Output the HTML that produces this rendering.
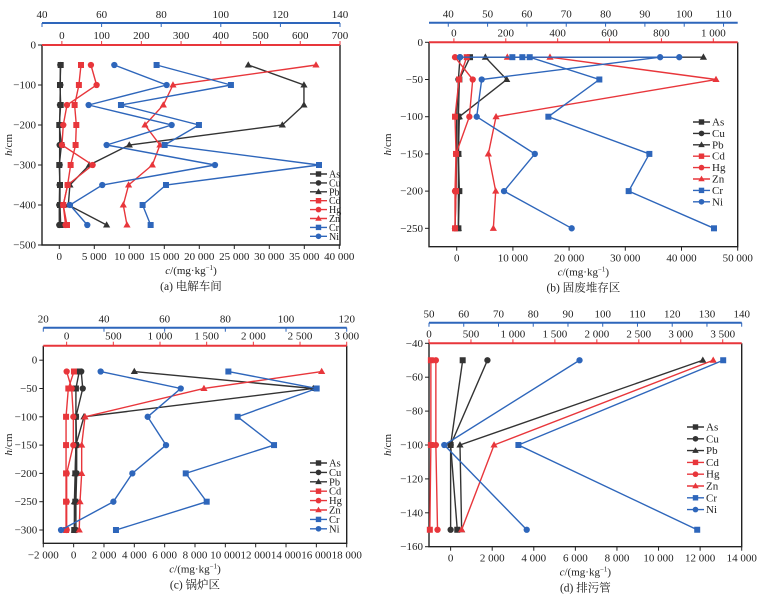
<!DOCTYPE html>
<html><head><meta charset="utf-8">
<style>
html,body{margin:0;padding:0;background:#fff;}
svg{display:block;font-family:"Liberation Serif","Noto Serif CJK SC",serif;}
</style></head>
<body>
<svg id="chart" width="765" height="600" viewBox="0 0 765 600" xmlns="http://www.w3.org/2000/svg"></svg>
<script>
// ---------- data ----------
const seriesNames = ['As','Cu','Pb','Cd','Hg','Zn','Cr','Ni'];
// (a) 电解车间
const aDepth = [-50,-100,-150,-200,-250,-300,-350,-400,-450];
const aAs = [200,100,200,0,300,0,100,100,200];
const aCu = [150,150,100,50,50,50,50,0,0];
const aPb = [27000,34950,34950,31860,10000,4290,1520,1290,6760];
const aCd = [3100,2800,2190,2430,2330,1620,1190,570,1100];
const aHg = [4520,5330,1100,570,380,4760,1190,570,900];
const aZn = [36670,16240,14860,12240,14380,13290,9900,9140,9670];
const aCr = [13900,24520,8810,19950,15050,37100,15240,11900,13050];
const aNi = [7860,15330,4190,16050,6760,22240,6140,1520,4000];
// (b) 固废堆存区
const bDepth = [-20,-50,-100,-150,-200,-250];
const bAs = [2370,470,300,300,470,300];
const bCu = [590,300,0,0,-120,-300];
const bPbDepth = [-20,-20,-50,-100,-150,-200,-250];
const bPb = [43900,5100,8900,470,300,300,300];
const bCd = [1780,415,-300,-120,-120,-300];
const bHg = [-300,2850,2250,-120,-300,-300];
const bZnDepth = [-20,-20,-50,-100,-150,-200,-250];
const bZn = [9010,16600,46140,7000,5630,6940,6520];
const bCrDepth = [-20,-20,-20,-50,-100,-150,-200,-250];
const bCr = [9900,11680,12990,25380,16310,34280,30600,45780];
const bNiDepth = [-20,-20,-20,-50,-100,-150,-200,-250];
const bNi = [590,39600,36200,4450,3560,13900,8420,20460];
// (c) 锅炉区
const cDepth = [-20,-50,-100,-150,-200,-250,-300];
const cAs = [370,150,150,150,110,110,40];
const cCu = [500,600,150,200,200,150,150];
const cPb = [4000,15800,680,150,100,50,50];
const cCd = [20,-350,-500,-500,-500,-500,-500];
const cHg = [-460,-130,-20,-20,-460,-460,-460];
const cZn = [16350,8590,750,530,530,420,370];
const cCr = [10200,16020,10810,13210,7390,8770,2790];
const cNi = [1780,7060,4880,6090,3870,2620,-830];
// (d) 排污管
const dDepth = [-50,-100,-150];
const dAs = [580,0,320];
const dCu = [1770,0,0];
const dPb = [12130,450,530];
const dCd = [-950,-950,-1000];
const dHg = [-710,-710,-630];
const dZn = [12630,2090,530];
const dCr = [13110,3260,11860];
const dNi = [6200,-305,3660];
// tick labels
const aXTicks = [0,5000,10000,15000,20000,25000,30000,35000,40000];
const aYTicks = [0,-100,-200,-300,-400,-500];
const aBlueTicks = [40,60,80,100,120,140];
const aRedTicks = [0,100,200,300,400,500,600,700];
const bXTicks = [0,10000,20000,30000,40000,50000];
const bYTicks = [0,-50,-100,-150,-200,-250];
const bBlueTicks = [40,50,60,70,80,90,100,110];
const bRedTicks = [0,200,400,600,800,1000];
const cXTicks = [-2000,0,2000,4000,6000,8000,10000,12000,14000,16000,18000];
const cYTicks = [0,-50,-100,-150,-200,-250,-300];
const cBlueTicks = [20,40,60,80,100,120];
const cRedTicks = [0,500,1000,1500,2000,2500,3000];
const dXTicks = [0,2000,4000,6000,8000,10000,12000,14000];
const dYTicks = [-40,-60,-80,-100,-120,-140,-160];
const dBlueTicks = [50,60,70,80,90,100,110,120,130,140];
const dRedTicks = [0,500,1000,1500,2000,2500,3000,3500];

// ---------- drawing ----------
const NS='http://www.w3.org/2000/svg';
const svg=document.getElementById('chart');
const K='#333333', R='#e8363b', B='#2e66bb';
const style={As:[K,'sq'],Cu:[K,'ci'],Pb:[K,'tr'],Cd:[R,'sq'],Hg:[R,'ci'],Zn:[R,'tr'],Cr:[B,'sq'],Ni:[B,'ci']};
function el(tag,attrs,parent){const e=document.createElementNS(NS,tag);for(const k in attrs)e.setAttribute(k,attrs[k]);(parent||svg).appendChild(e);return e;}
function fmt(v){const s=Math.abs(v).toString().replace(/\B(?=(\d{3})+(?!\d))/g,' ');return (v<0?'\u2212':'')+s;}
function marker(g,type,x,y,c,sz){
  let m;
  if(type==='sq') m=el('rect',{x:x-sz,y:y-sz,width:2*sz,height:2*sz,fill:c},g);
  else if(type==='ci') m=el('circle',{cx:x,cy:y,r:sz*1.05,fill:c},g);
  else m=el('polygon',{points:`${x},${y-sz*1.25} ${x-sz*1.2},${y+sz*0.85} ${x+sz*1.2},${y+sz*0.85}`,fill:c},g);
  return m;
}
function panel(p,data,ticks){
  const g=el('g',{});
  
  
  const xs=v=>p.L+(v-p.xmin)/(p.xmax-p.xmin)*(p.R-p.L);
  const ys=v=>p.T+(p.ymax-v)/(p.ymax-p.ymin)*(p.B-p.T);
  el('path',{d:`M${p.L},${p.T}V${p.B}H${p.R}V${p.T}`,fill:'none',stroke:'#222','stroke-width':1.4},g);
  const red=el('line',{x1:p.L,y1:p.T,x2:p.R,y2:p.T,stroke:R,'stroke-width':2},g);
  
  
  const rx=v=>p.L+(v-p.rmin)/(p.rmax-p.rmin)*(p.R-p.L);
  ticks.red.forEach(v=>{el('line',{x1:rx(v),y1:p.T,x2:rx(v),y2:p.T-4,stroke:R,'stroke-width':1},g);
    const t=el('text',{x:rx(v),y:p.T-6,'font-size':p.fs,'text-anchor':'middle',fill:'#222'},g);t.textContent=fmt(v);
    });
  const bl=el('line',{x1:p.L,y1:p.BY,x2:p.R,y2:p.BY,stroke:B,'stroke-width':2},g);
  
  
  const bx=v=>p.L+(v-p.bmin)/(p.bmax-p.bmin)*(p.R-p.L);
  ticks.blue.forEach(v=>{el('line',{x1:bx(v),y1:p.BY,x2:bx(v),y2:p.BY+4,stroke:B,'stroke-width':1},g);
    const t=el('text',{x:bx(v),y:p.BY-5,'font-size':p.fs,'text-anchor':'middle',fill:'#222'},g);t.textContent=fmt(v);
    });
  ticks.x.forEach(v=>{el('line',{x1:xs(v),y1:p.B,x2:xs(v),y2:p.B+4,stroke:'#222','stroke-width':1},g);
    const t=el('text',{x:xs(v),y:p.B+15,'font-size':p.fs,'text-anchor':'middle',fill:'#222'},g);t.textContent=fmt(v);
    });
  ticks.y.forEach(v=>{el('line',{x1:p.L,y1:ys(v),x2:p.L-4,y2:ys(v),stroke:'#222','stroke-width':1},g);
    const t=el('text',{x:p.L-6,y:ys(v)+3.5,'font-size':p.fs,'text-anchor':'end',fill:'#222'},g);t.textContent=fmt(v);
    });
  const cx=(p.L+p.R)/2;
  const xt=el('text',{x:cx,y:p.B+29,'font-size':p.fs,'text-anchor':'middle',fill:'#222'},g);
  xt.innerHTML='<tspan font-style="italic">c</tspan>/(mg·kg<tspan font-size="7" dy="-4">−1</tspan><tspan dy="4">)</tspan>';
  
  const yt=el('text',{x:0,y:0,'font-size':p.fs,'text-anchor':'middle',fill:'#222',transform:`translate(${p.yTitleX},${(p.T+p.B)/2}) rotate(-90)`},g);
  yt.innerHTML='<tspan font-style="italic">h</tspan>/cm';
  
  const cap=el('text',{x:cx,y:p.B+45,'font-size':p.fs+0.5,'text-anchor':'middle',fill:'#222'},g);
  cap.textContent=p.caption;
  
  seriesNames.forEach(n=>{
    const [c,m]=style[n]; const [dep,vals]=data[n];
    const sg=el('g',{},g);
    
    
    el('polyline',{points:vals.map((v,i)=>xs(v)+','+ys(dep[i])).join(' '),fill:'none',stroke:c,'stroke-width':1.4},sg);
    vals.forEach((v,i)=>{const mk=marker(sg,m,xs(v),ys(dep[i]),c,p.ms);
      
      });
  });
  const lg=el('g',{},g);
  
  
  seriesNames.forEach((n,i)=>{
    const [c,m]=style[n]; const y=p.lgY+i*p.lgDy;
    const eg=el('g',{},lg);
    
    
    el('line',{x1:p.lgX,y1:y,x2:p.lgX+17,y2:y,stroke:c,'stroke-width':1.4},eg);
    marker(eg,m,p.lgX+8.5,y,c,p.ms*0.9);
    const t=el('text',{x:p.lgX+19,y:y+3.5,'font-size':p.lgFs,fill:'#222'},eg);t.textContent=n;
  });
}
function same(dep,arr){return [dep,arr];}
panel({id:'a',caption:'(a) 电解车间',L:42,R:340,T:45,B:245,xmin:-2470,xmax:40100,ymin:-500,ymax:0,BY:23,bmin:40,bmax:140,rmin:-50,rmax:700,fs:11,ms:3,yTitleX:12,lgX:310,lgY:174,lgDy:8.9,lgFs:10},
 {As:same(aDepth,aAs),Cu:same(aDepth,aCu),Pb:same(aDepth,aPb),Cd:same(aDepth,aCd),Hg:same(aDepth,aHg),Zn:same(aDepth,aZn),Cr:same(aDepth,aCr),Ni:same(aDepth,aNi)},
 {x:aXTicks,y:aYTicks,blue:aBlueTicks,red:aRedTicks});
panel({id:'b',caption:'(b) 固废堆存区',L:429,R:737.7,T:42.3,B:246.7,xmin:-4930,xmax:50000,ymin:-274.7,ymax:0,BY:22.7,bmin:35.1,bmax:113.6,rmin:-96,rmax:1094,fs:11,ms:3,yTitleX:391,lgX:693,lgY:122,lgDy:11.4,lgFs:11},
 {As:same(bDepth,bAs),Cu:same(bDepth,bCu),Pb:same(bPbDepth,bPb),Cd:same(bDepth,bCd),Hg:same(bDepth,bHg),Zn:same(bZnDepth,bZn),Cr:same(bCrDepth,bCr),Ni:same(bNiDepth,bNi)},
 {x:bXTicks,y:bYTicks,blue:bBlueTicks,red:bRedTicks});
panel({id:'c',caption:'(c) 锅炉区',L:43.3,R:346.7,T:345.7,B:543.3,xmin:-2000,xmax:18000,ymin:-323.5,ymax:25.6,BY:327.7,bmin:20,bmax:120,rmin:-250,rmax:3000,fs:11,ms:3,yTitleX:12,lgX:310,lgY:463,lgDy:9.4,lgFs:10.5},
 {As:same(cDepth,cAs),Cu:same(cDepth,cCu),Pb:same(cDepth,cPb),Cd:same(cDepth,cCd),Hg:same(cDepth,cHg),Zn:same(cDepth,cZn),Cr:same(cDepth,cCr),Ni:same(cDepth,cNi)},
 {x:cXTicks,y:cYTicks,blue:cBlueTicks,red:cRedTicks});
panel({id:'d',caption:'(d) 排污管',L:429,R:741.7,T:343.3,B:546.7,xmin:-1040,xmax:14000,ymin:-160,ymax:-40,BY:322.7,bmin:50,bmax:140,rmin:0,rmax:3726,fs:11,ms:3,yTitleX:391,lgX:687,lgY:427,lgDy:11.8,lgFs:11},
 {As:same(dDepth,dAs),Cu:same(dDepth,dCu),Pb:same(dDepth,dPb),Cd:same(dDepth,dCd),Hg:same(dDepth,dHg),Zn:same(dDepth,dZn),Cr:same(dDepth,dCr),Ni:same(dDepth,dNi)},
 {x:dXTicks,y:dYTicks,blue:dBlueTicks,red:dRedTicks});
</script>
</body></html>
